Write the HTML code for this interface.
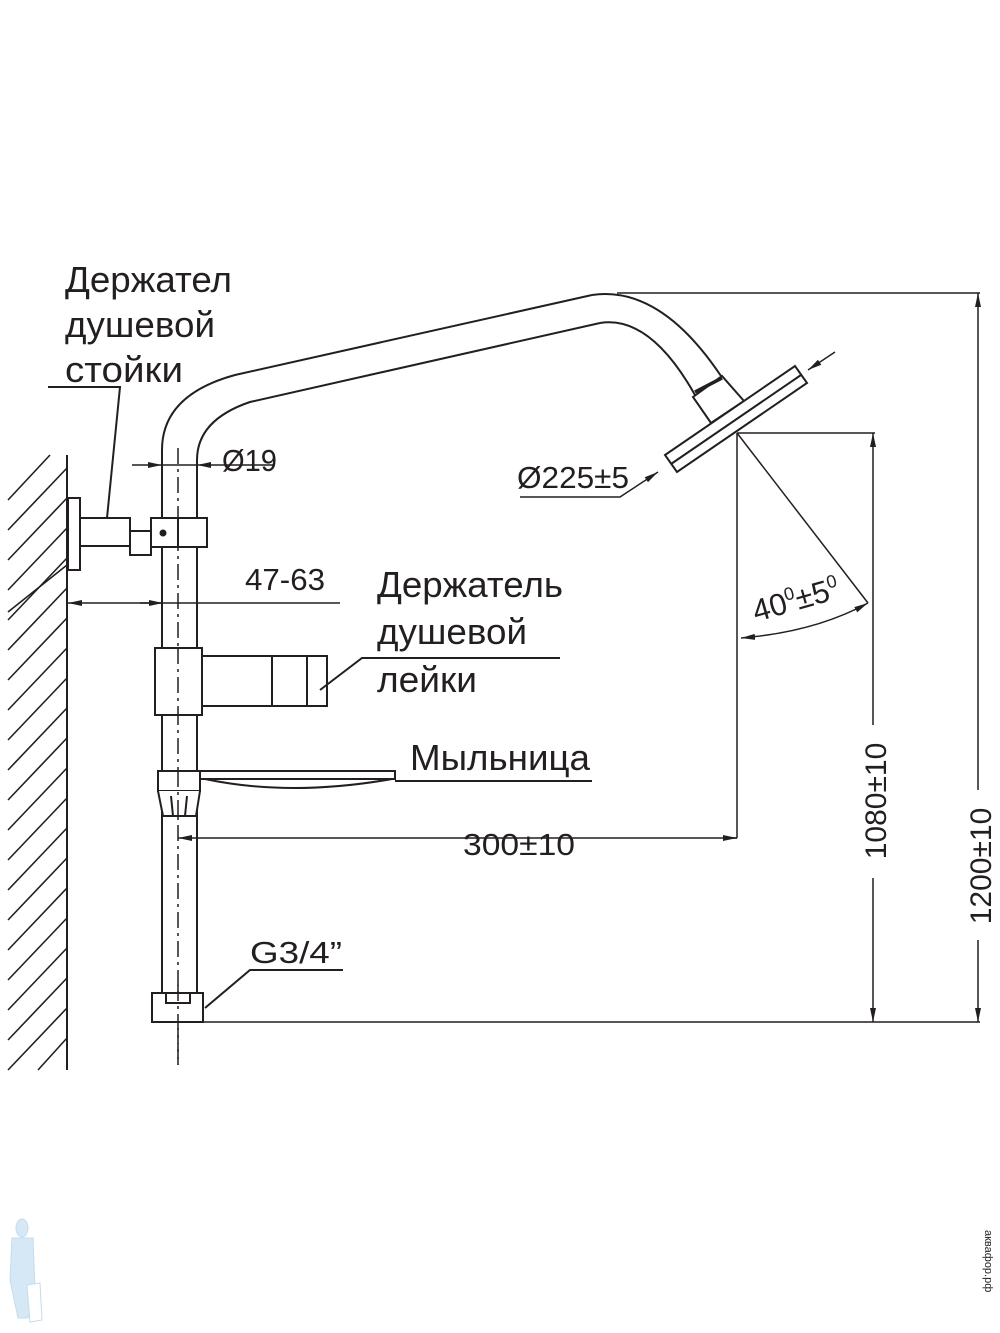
<!DOCTYPE html>
<html><head><meta charset="utf-8"><style>
html,body{margin:0;padding:0;background:#fff;}
svg{display:block;}
text{font-family:"Liberation Sans",sans-serif;fill:#231f20;}
</style></head><body>
<svg width="1000" height="1333" viewBox="0 0 1000 1333" xmlns="http://www.w3.org/2000/svg">
<defs>
<marker id="a" markerWidth="14" markerHeight="8" refX="14" refY="4" orient="auto" markerUnits="userSpaceOnUse"><path d="M0,1 L14,4 L0,7 Z" fill="#231f20"/></marker>
<marker id="b" markerWidth="14" markerHeight="8" refX="0" refY="4" orient="auto" markerUnits="userSpaceOnUse"><path d="M14,1 L0,4 L14,7 Z" fill="#231f20"/></marker>
</defs>
<g stroke="#231f20" stroke-width="2" fill="none">
<line x1="67" y1="455" x2="67" y2="1070"/>
<g stroke-width="1.6">
<line x1="8" y1="500" x2="50" y2="455"/><line x1="8" y1="530" x2="67" y2="468"/><line x1="8" y1="560" x2="67" y2="498"/><line x1="8" y1="590" x2="67" y2="528"/><line x1="8" y1="620" x2="67" y2="558"/><line x1="8" y1="650" x2="67" y2="588"/><line x1="8" y1="680" x2="67" y2="618"/><line x1="8" y1="710" x2="67" y2="648"/><line x1="8" y1="740" x2="67" y2="678"/><line x1="8" y1="770" x2="67" y2="708"/><line x1="8" y1="800" x2="67" y2="738"/><line x1="8" y1="830" x2="67" y2="768"/><line x1="8" y1="860" x2="67" y2="798"/><line x1="8" y1="890" x2="67" y2="828"/><line x1="8" y1="920" x2="67" y2="858"/><line x1="8" y1="950" x2="67" y2="888"/><line x1="8" y1="980" x2="67" y2="918"/><line x1="8" y1="1010" x2="67" y2="948"/><line x1="8" y1="1040" x2="67" y2="978"/><line x1="8" y1="1070" x2="67" y2="1008"/><line x1="38" y1="1070" x2="67" y2="1038"/>
<line x1="8" y1="612" x2="67" y2="565"/>
</g>
<path d="M162,993 L162,450 Q162,395 235,375 L592,295"/>
<path d="M197,993 L197,460 Q197,420 250,402 L600,323"/>
<path d="M592,295 Q660,285 721,376"/>
<path d="M600,323 Q650,315 695,395"/>
<path d="M693,397 L722,376 L744,401 L711,423 Z" fill="#fff"/>
<line x1="695" y1="392" x2="722" y2="378" stroke-width="3.5"/>
<path d="M665,455 L795,366 L807,383 L677,472 Z" fill="#fff"/>
<line x1="671" y1="464" x2="801" y2="375"/>
<line x1="178" y1="448" x2="178" y2="1065" stroke-width="1.5" stroke-dasharray="16,5,3,5"/>
<rect x="68" y="498" width="12" height="72" fill="#fff"/>
<rect x="80" y="518" width="50" height="28" fill="#fff"/>
<rect x="130" y="531" width="21" height="24" fill="#fff"/>
<rect x="151" y="518" width="56" height="29" fill="#fff"/>
<line x1="178" y1="518" x2="178" y2="547"/>
<circle cx="163" cy="533" r="2.5" fill="#231f20"/>
<path d="M48,387 L120,387 L107,518"/>
<rect x="155" y="648" width="47" height="67" fill="#fff"/>
<line x1="178" y1="648" x2="178" y2="715" stroke-dasharray="16,5,3,5" stroke-width="1.5"/>
<rect x="202" y="656" width="125" height="50" fill="#fff"/>
<line x1="272" y1="656" x2="272" y2="706"/><line x1="307" y1="656" x2="307" y2="706"/>
<path d="M320,690 L362,658 L560,658"/>
<rect x="158" y="771" width="42" height="20" fill="#fff"/>
<path d="M158,791 L163,816 L196,816 L200,791" fill="#fff"/>
<line x1="171" y1="796" x2="173" y2="816"/><line x1="187" y1="796" x2="185" y2="816"/>
<line x1="178" y1="771" x2="178" y2="816" stroke-dasharray="16,5,3,5" stroke-width="1.5"/>
<rect x="200" y="771" width="195" height="8"/>
<path d="M205,779 Q290,797 392,779"/>
<line x1="395" y1="781" x2="592" y2="781"/>
<rect x="152" y="993" width="51" height="29" fill="#fff"/>
<path d="M166,993 L166,1003 L190,1003 L190,993"/>
<line x1="178" y1="985" x2="178" y2="1065" stroke-dasharray="16,5,3,5" stroke-width="1.5"/>
<path d="M205,1008 L250,970 L343,970"/>
<line x1="132" y1="465" x2="162" y2="465" marker-end="url(#a)" stroke-width="1.5"/>
<line x1="275" y1="465" x2="197" y2="465" marker-end="url(#a)" stroke-width="1.5"/>
<line x1="162" y1="465" x2="197" y2="465" stroke-width="1.5"/>
<line x1="68" y1="603" x2="340" y2="603" marker-start="url(#b)" stroke-width="1.5"/>
<line x1="140" y1="603" x2="163" y2="603" marker-end="url(#a)" stroke-width="1.5"/>
<line x1="737" y1="838" x2="178" y2="838" marker-end="url(#a)" stroke-width="1.5"/>
<line x1="725" y1="838" x2="737" y2="838" marker-end="url(#a)" stroke-width="1.5"/>
<line x1="737" y1="433" x2="737" y2="838" stroke-width="1.5"/>
<line x1="737" y1="433" x2="875" y2="433" stroke-width="1.5"/>
<line x1="873" y1="725" x2="873" y2="433" marker-end="url(#a)" stroke-width="1.5"/>
<line x1="873" y1="878" x2="873" y2="1022" marker-end="url(#a)" stroke-width="1.5"/>
<line x1="203" y1="1022" x2="980" y2="1022" stroke-width="1.5"/>
<line x1="617" y1="293" x2="980" y2="293" stroke-width="1.5"/>
<line x1="978" y1="790" x2="978" y2="293" marker-end="url(#a)" stroke-width="1.5"/>
<line x1="978" y1="940" x2="978" y2="1022" marker-end="url(#a)" stroke-width="1.5"/>
<line x1="737" y1="433" x2="868" y2="603" stroke-width="1.5"/>
<path d="M741,638 Q815,632 868,603" stroke-width="1.5" marker-start="url(#b)" marker-end="url(#a)"/>
<path d="M520,497 L620,497 L658,472" stroke-width="1.5" marker-end="url(#a)"/>
<line x1="835" y1="352" x2="808" y2="370" stroke-width="1.5" marker-end="url(#a)"/>
</g>
<g font-size="36">
<text x="65" y="292" textLength="167" lengthAdjust="spacingAndGlyphs">Держател</text>
<text x="65" y="337" textLength="150" lengthAdjust="spacingAndGlyphs">душевой</text>
<text x="65" y="382" textLength="118" lengthAdjust="spacingAndGlyphs">стойки</text>
<text x="377" y="597" textLength="186" lengthAdjust="spacingAndGlyphs">Держатель</text>
<text x="377" y="644" textLength="150" lengthAdjust="spacingAndGlyphs">душевой</text>
<text x="377" y="692" textLength="100" lengthAdjust="spacingAndGlyphs">лейки</text>
<text x="410" y="770" textLength="180" lengthAdjust="spacingAndGlyphs">Мыльница</text>
</g>
<g font-size="31">
<text x="222" y="471" textLength="55" lengthAdjust="spacingAndGlyphs">Ø19</text>
<text x="245" y="590" textLength="80" lengthAdjust="spacingAndGlyphs">47-63</text>
<text x="463" y="855" textLength="112" lengthAdjust="spacingAndGlyphs">300±10</text>
<text x="250" y="963" textLength="92" lengthAdjust="spacingAndGlyphs">G3/4”</text>
<text x="517" y="488" textLength="112" lengthAdjust="spacingAndGlyphs">Ø225±5</text>
<text transform="translate(886,801) rotate(-90)" text-anchor="middle" font-size="30">1080±10</text>
<text transform="translate(991,866) rotate(-90)" text-anchor="middle" font-size="30">1200±10</text>
<text transform="translate(756,622) rotate(-16)">40<tspan font-size="18" dy="-12">0</tspan><tspan dy="12">±5</tspan><tspan font-size="18" dy="-12">0</tspan></text>
</g>
<g fill="#d6e8f5" stroke="#c4dcee">
<ellipse cx="22" cy="1228" rx="6" ry="9"/>
<path d="M12,1238 L33,1238 L35,1290 L28,1318 L18,1318 L10,1280 Z"/>
<path d="M27,1285 L40,1283 L42,1320 L30,1322 Z" fill="#fff"/>
</g>
<text transform="translate(985,1230) rotate(90)" font-size="11" fill="#e0e0e0">аквафор.рф</text>
</svg>
</body></html>
